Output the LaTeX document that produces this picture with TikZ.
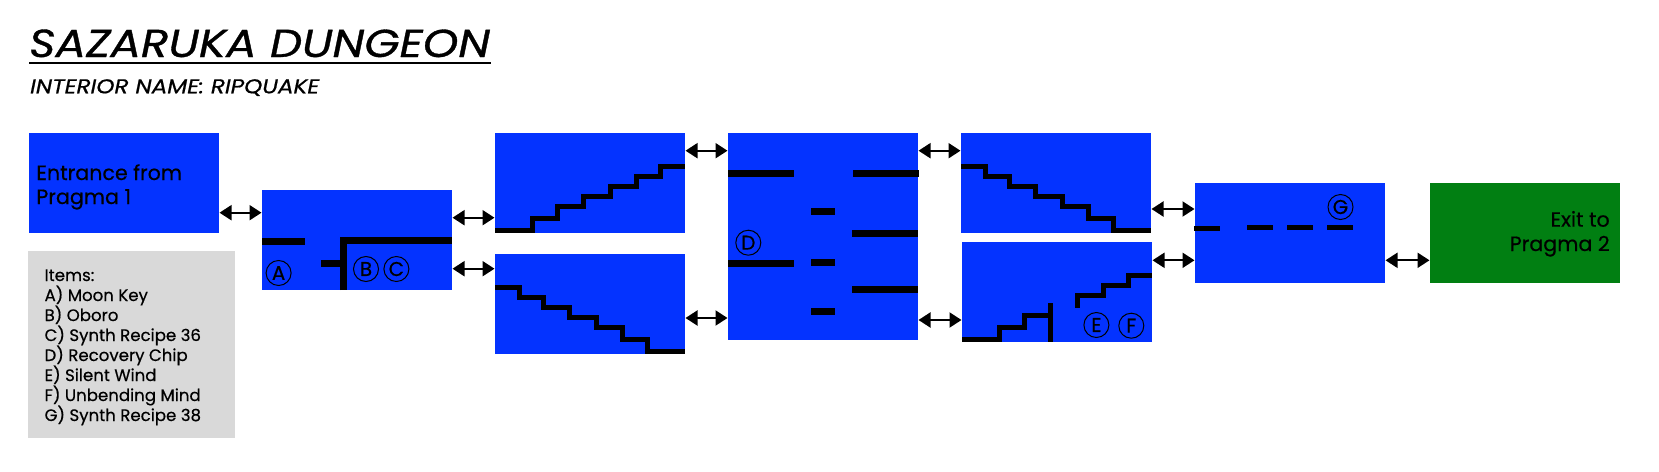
\documentclass[tikz,border=0pt]{standalone}
\usepackage{fontspec}
\setmainfont[FakeBold=0.45]{Poppins}
\newfontfamily\titlefont[FakeBold=0.9,FakeStretch=1.16]{Poppins}
\newfontfamily\subfont[FakeBold=0.7,FakeStretch=1.157]{Poppins}
\usetikzlibrary{arrows.meta}
\definecolor{roomblue}{HTML}{0433FF}
\definecolor{exitgreen}{HTML}{017F12}
\definecolor{itemgrey}{HTML}{D9D9D9}
\tikzset{
  room/.style={fill=roomblue,draw=none,inner sep=0pt,outer sep=0pt,minimum width=190pt,minimum height=100pt,anchor=north west},
  link/.style={line width=2pt,{Triangle[length=12pt,width=15pt]}-{Triangle[length=12pt,width=15pt]},shorten <=0.5pt,shorten >=0.5pt},
  wall/.style={line width=7pt,black,line join=miter,line cap=butt},
  stair/.style={line width=5pt,black,line join=miter,line cap=butt},
  mark circle/.style={circle,draw=black,line width=1pt,minimum size=25pt,inner sep=0pt,font=\fontsize{20}{20}\selectfont},
  label text/.style={inner sep=0pt,outer sep=0pt,anchor=base west,font=\fontsize{20.6}{24}\selectfont},
}
\begin{document}
\begin{tikzpicture}[x=1pt,y=-1pt]
\useasboundingbox (0,0) rectangle (1659,471);
% title
\node[inner sep=0pt,anchor=base west] (title) at (29,57) {\fontsize{39}{39}\selectfont\titlefont\itshape SAZARUKA DUNGEON};
\draw[line width=1.8pt] (29,62.7) -- (491,62.7);
\node[inner sep=0pt,anchor=base west] (subtitle) at (30,93.3) {\fontsize{20}{24}\selectfont\subfont\itshape INTERIOR NAME: RIPQUAKE};
% rooms
\node[room] (entrance) at (29,133) {};
\node[room] (split) at (262,190) {};
\node[room] (upA) at (495,133) {};
\node[room] (downA) at (495,254) {};
\node[room,minimum height=207pt] (hall) at (728,133) {};
\node[room] (downB) at (961,133) {};
\node[room] (upB) at (962,242) {};
\node[room] (ledge) at (1195,183) {};
\node[room,fill=exitgreen] (exit) at (1430,183) {};
% items
\node[fill=itemgrey,inner sep=0pt,minimum width=207pt,minimum height=187pt,anchor=north west] (items) at (28,251) {};
\foreach \t/\b/\n in {Items:/281/i0,A) Moon Key/301/i1,B) Oboro/321/i2,C) Synth Recipe 36/341/i3,D) Recovery Chip/361/i4,E) Silent Wind/381/i5,F) Unbending Mind/401/i6,G) Synth Recipe 38/421/i7}
  \node[label text,font=\fontsize{16.6}{20}\selectfont] (\n) at (44.6,\b) {\t};
% labels
\node[label text] (entl1) at (36.4,180) {Entrance from};
\node[label text] (entl2) at (36.4,204) {Pragma 1};
\node[label text,anchor=base east] (exl1) at (1609.7,226.7) {Exit to};
\node[label text,anchor=base east] (exl2) at (1609.7,251) {Pragma 2};
% connectors
\draw[link] (entrance.east |- 0,212.7) -- (split.west |- 0,212.7);
\draw[link] (split.east |- 0,217.7) -- (upA.west |- 0,217.7);
\draw[link] (split.east |- 0,268.7) -- (downA.west |- 0,268.7);
\draw[link] (upA.east |- 0,150.7) -- (hall.west |- 0,150.7);
\draw[link] (downA.east |- 0,318) -- (hall.west |- 0,318);
\draw[link] (hall.east |- 0,150.7) -- (downB.west |- 0,150.7);
\draw[link] (hall.east |- 0,320) -- (upB.west |- 0,320);
\draw[link] (downB.east |- 0,209) -- (ledge.west |- 0,209);
\draw[link] (upB.east |- 0,260.3) -- (ledge.west |- 0,260.3);
\draw[link] (ledge.east |- 0,260.3) -- (exit.west |- 0,260.3);
% split room
\draw[wall] (262,241.7) -- (305,241.7);
\draw[wall] (343.6,290) -- (343.6,240.7) -- (452,240.7);
\draw[wall] (321,263.3) -- (343.6,263.3);
\node[mark circle] (mA) at (278.6,273) {A};
\node[mark circle] (mB) at (366,269) {B};
\node[mark circle] (mC) at (396.4,269) {C};
% stairs up A
\draw[stair] (495,230.3) -| (532.3,218.3) -| (557.3,206.3) -| (583.7,196.3) -| (610.3,186.3) -| (636.3,176.3) -| (660.3,166.3) -- (685,166.3);
% stairs down A
\draw[stair] (495,287.3) -| (519.3,297.3) -| (543.3,307.3) -| (569.3,317.3) -| (596.3,327.3) -| (622.3,339.3) -| (647.3,351.3) -- (685,351.3);
% hall
\draw[wall] (728,173.7) -- (794,173.7);
\draw[wall] (853,173.7) -- (919,173.7);
\draw[wall] (811,211) -- (835,211);
\draw[wall] (811,262) -- (835,262);
\draw[wall] (811,311.7) -- (835,311.7);
\draw[wall] (852,233.7) -- (918,233.7);
\draw[wall] (852,289.7) -- (918,289.7);
\draw[wall] (728,263) -- (794,263);
\node[mark circle] (mD) at (748.3,242.7) {D};
% stairs down B
\draw[stair] (961,166.3) -| (985.9,176.3) -| (1009.7,186.3) -| (1035.9,196.3) -| (1062.9,206.3) -| (1088.6,218.3) -| (1113.9,230.3) -- (1151,230.3);
% stairs up B
\draw[stair] (962,339.3) -| (999.6,327.3) -| (1024.9,315.3) -- (1050.6,315.3);
\draw[stair] (1050.6,303.3) -- (1050.6,342);
\draw[stair] (1077.2,307.7) -- (1077.2,295.3) -| (1103.8,285.3) -| (1128,275.3) -- (1152,275.3);
\node[mark circle] (mE) at (1096.4,325) {E};
\node[mark circle] (mF) at (1131.3,325.7) {F};
% ledge
\draw[stair] (1194,228.3) -- (1220,228.3);
\draw[stair] (1247.3,227.7) -- (1273,227.7);
\draw[stair] (1287.3,227.7) -- (1313,227.7);
\draw[stair] (1327,227.7) -- (1353.3,227.7);
\node[mark circle] (mG) at (1340.5,207) {G};
\end{tikzpicture}
\end{document}
